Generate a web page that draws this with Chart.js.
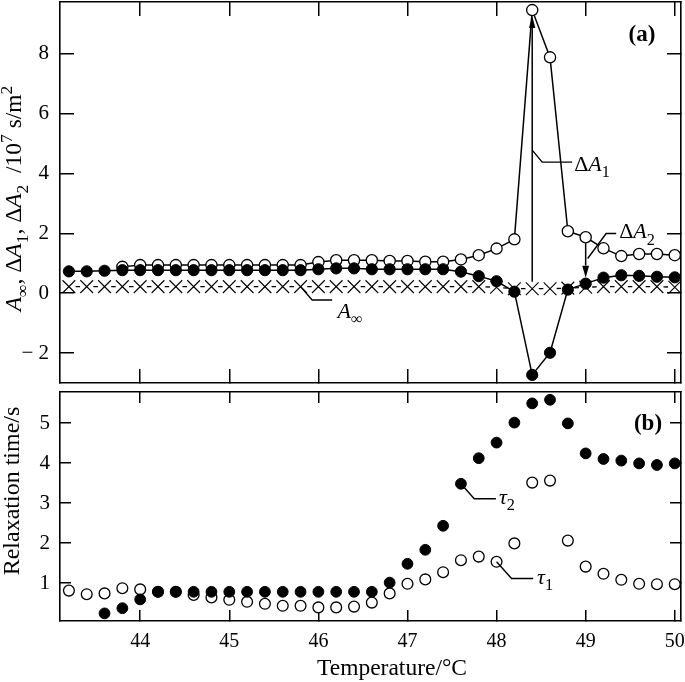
<!DOCTYPE html>
<html>
<head>
<meta charset="utf-8">
<script src="https://cdn.jsdelivr.net/npm/chart.js@4.4.1/dist/chart.umd.min.js"></script>
<style>
  html, body { margin: 0; padding: 0; background: #fff; }
  #wrap { position: relative; width: 685px; height: 682px; }
  #panelA { position: absolute; left: 0; top: 0; }
  #panelB { position: absolute; left: 0; top: 386px; }
</style>
</head>
<body>
<div id="wrap">
  <canvas id="panelA" width="685" height="390"></canvas>
  <canvas id="panelB" width="685" height="296"></canvas>
</div>
<script>
// temperature (°C)
const temps = [43.2, 43.4, 43.6, 43.8, 44.0, 44.2, 44.4, 44.6, 44.8, 45.0,
  45.2, 45.4, 45.6, 45.8, 46.0, 46.2, 46.4, 46.6, 46.8, 47.0,
  47.2, 47.4, 47.6, 47.8, 48.0, 48.2, 48.4, 48.6, 48.8, 49.0,
  49.2, 49.4, 49.6, 49.8, 50.0];

// panel (a), 10^7 s/m^2
const deltaA1 = [null, null, null, 0.88, 0.94, 0.94, 0.94, 0.94, 0.94, 0.94,
  0.94, 0.94, 0.94, 0.94, 1.04, 1.10, 1.10, 1.10, 1.08, 1.08,
  1.05, 1.05, 1.13, 1.27, 1.49, 1.80, 9.46, 7.88, 2.07, 1.87,
  1.50, 1.24, 1.31, 1.31, 1.27];
const deltaA2 = [0.73, 0.73, 0.75, 0.77, 0.77, 0.77, 0.77, 0.77, 0.77, 0.77,
  0.77, 0.77, 0.77, 0.77, 0.80, 0.83, 0.83, 0.80, 0.80, 0.80,
  0.80, 0.80, 0.72, 0.57, 0.40, 0.05, -2.73, -1.99, 0.12, 0.32,
  0.52, 0.60, 0.58, 0.55, 0.53];
const aInf = [0.22, 0.22, 0.22, 0.22, 0.22, 0.22, 0.22, 0.22, 0.22, 0.22,
  0.22, 0.22, 0.22, 0.22, 0.22, 0.22, 0.22, 0.22, 0.22, 0.22,
  0.22, 0.22, 0.22, 0.22, 0.20, 0.15, 0.15, 0.15, 0.17, 0.20,
  0.22, 0.22, 0.22, 0.22, 0.20];

// panel (b), relaxation time (s)
const tau1 = [0.81, 0.72, 0.74, 0.87, 0.84, 0.78, 0.78, 0.70, 0.64, 0.58,
  0.53, 0.48, 0.43, 0.43, 0.39, 0.39, 0.41, 0.51, 0.74, 0.98,
  1.09, 1.27, 1.57, 1.66, 1.53, 1.99, 3.51, 3.56, 2.06, 1.41,
  1.23, 1.08, 0.98, 0.97, 0.97];
const tau2 = [null, null, 0.24, 0.37, 0.59, 0.78, 0.78, 0.78, 0.78, 0.78,
  0.78, 0.78, 0.78, 0.78, 0.78, 0.78, 0.78, 0.78, 1.01, 1.48,
  1.83, 2.43, 3.48, 4.12, 4.51, 5.01, 5.49, 5.58, 4.99, 4.24,
  4.10, 4.06, 3.99, 3.95, 3.99];

const xTickValues = [44, 45, 46, 47, 48, 49, 50];
const yTickValuesA = [-2, 0, 2, 4, 6, 8];
const yTickValuesB = [1, 2, 3, 4, 5];

window.addEventListener("DOMContentLoaded", () => {
  const SERIF = "'Liberation Serif', 'Times New Roman', serif";
  const X_MIN = 43.1, X_MAX = 50.07;
  const LEFT = 60, RIGHT_PAD = 4;
  const ink = "#000";

  Chart.defaults.font.family = SERIF;
  Chart.defaults.color = ink;

  const pts = (arr) => temps.map((t, i) => ({ x: t, y: arr[i] }));

  // draws a row of text pieces: '' normal, 'i' italic, 'sub', 'sup', 'b' bold
  function textRuns(ctx, parts, x, y, size, align) {
    const spec = parts.map(([t, s]) => {
      const small = s === "sub" || s === "sup";
      const fs = small ? size * 0.74 : size;
      const style = s === "i" ? "italic " : s === "b" ? "bold " : "";
      const font = `${style}${fs}px ${SERIF}`;
      ctx.font = font;
      return { t, font, w: ctx.measureText(t).width,
        dy: s === "sub" ? size * 0.3 : s === "sup" ? -size * 0.4 : 0 };
    });
    const total = spec.reduce((a, p) => a + p.w, 0);
    let cx = align === "center" ? x - total / 2 : align === "right" ? x - total : x;
    ctx.textAlign = "left";
    ctx.textBaseline = "alphabetic";
    ctx.fillStyle = ink;
    for (const p of spec) {
      ctx.font = p.font;
      ctx.fillText(p.t, cx, y + p.dy);
      cx += p.w;
    }
  }

  function leader(ctx, x0, y0, dx, dy, run) {
    ctx.beginPath();
    ctx.moveTo(x0, y0);
    ctx.lineTo(x0 + dx, y0 + dy);
    ctx.lineTo(x0 + dx + run, y0 + dy);
    ctx.stroke();
  }

  function vArrow(ctx, x, yFrom, yTip, len, half) {
    const dir = yTip < yFrom ? -1 : 1;
    ctx.beginPath();
    ctx.moveTo(x, yFrom);
    ctx.lineTo(x, yTip - dir * len);
    ctx.stroke();
    ctx.beginPath();
    ctx.moveTo(x, yTip);
    ctx.lineTo(x - half, yTip - dir * len);
    ctx.lineTo(x + half, yTip - dir * len);
    ctx.closePath();
    ctx.fill();
  }

  // frame axis with inward ticks; `size` is the box the axis takes (labels are clipped to it)
  function frameAxis(position, tickLen, min, max, tickValues, labels, size) {
    const horizontal = position === "top" || position === "bottom";
    return {
      type: "linear",
      position,
      min,
      max,
      afterBuildTicks: (s) => { s.ticks = tickValues.map((v) => ({ value: v })); },
      afterFit: (s) => {
        if (horizontal) s.height = size || 0; else s.width = size || 0;
        s.paddingLeft = s.paddingRight = s.paddingTop = s.paddingBottom = 0;
      },
      grid: { drawOnChartArea: false, drawTicks: true, tickLength: tickLen, color: ink, lineWidth: 1.5 },
      border: { display: true, color: ink, width: 1.6 },
      ticks: labels
        ? Object.assign({ display: true, autoSkip: false, maxRotation: 0, color: ink }, labels)
        : { display: false }
    };
  }

  const minusFmt = (v) => (v < 0 ? "\u2212 " + Math.abs(v) : String(v));

  // crosses joined by short dashes between the marks
  const crossStep = (685 - LEFT - RIGHT_PAD) / (X_MAX - X_MIN) * 0.2;
  const dashLen = 4.5;
  const crossDash = [dashLen, crossStep - dashLen];
  const crossDashOffset = crossStep - (crossStep - dashLen) / 2;

  const panelAPlugin = {
    id: "panelAText",
    afterDatasetsDraw(chart) {
      const { ctx, chartArea } = chart;
      const x = chart.scales.x, y = chart.scales.y;
      const px = (v) => x.getPixelForValue(v), py = (v) => y.getPixelForValue(v);
      ctx.save();
      ctx.strokeStyle = ink;
      ctx.fillStyle = ink;
      ctx.lineWidth = 1.5;

      // ΔA1 arrow: from A∞ up to the ΔA1 peak
      const iPeak = temps.indexOf(48.4);
      vArrow(ctx, px(48.4), py(aInf[iPeak]) - 7, py(deltaA1[iPeak]) + 6, 12, 3.2);
      // ΔA2 arrow: from ΔA1 down to ΔA2
      const j = temps.indexOf(49.0);
      vArrow(ctx, px(49.0), py(deltaA1[j]) + 6, py(deltaA2[j]) - 6, 12, 3.4);

      // leaders and labels
      ctx.lineWidth = 1.4;
      const l1x = px(48.4), l1y = py(4.78);
      leader(ctx, l1x, l1y, 10, 12, 30);
      textRuns(ctx, [["\u0394", ""], ["A", "i"], ["1", "sub"]], l1x + 42, l1y + 20.5, 22, "left");

      const l2x = px(49.0) + 2, l2y = py(1.16);
      leader(ctx, l2x, l2y, 18.5, -25, 10);
      textRuns(ctx, [["\u0394", ""], ["A", "i"], ["2", "sub"]], l2x + 31.5, l2y - 20, 22, "left");

      const k = temps.indexOf(45.8);
      const l3x = px(45.8), l3y = py(aInf[k]);
      leader(ctx, l3x, l3y, 11.6, 13.4, 20);
      textRuns(ctx, [["A", "i"], ["\u221E", "sub"]], l3x + 37, l3y + 31, 22, "left");

      textRuns(ctx, [["(a)", "b"]], chartArea.right - 39, chartArea.top + 39, 23, "center");
      ctx.restore();
    },
    afterDraw(chart) {
      const { ctx, chartArea } = chart;
      ctx.save();
      ctx.translate(21, (chartArea.top + chartArea.bottom) / 2 + 6);
      ctx.rotate(-Math.PI / 2);
      textRuns(ctx, [
        ["A", "i"], ["\u221E", "sub"], [", \u0394", ""], ["A", "i"], ["1", "sub"],
        [", \u0394", ""], ["A", "i"], ["2", "sub"], ["  /10", ""], ["7", "sup"],
        [" s/m", ""], ["2", "sup"]
      ], 0, 0, 23.5, "center");
      ctx.restore();
    }
  };

  new Chart(document.getElementById("panelA"), {
    type: "line",
    data: {
      datasets: [
        {
          label: "\u0394A2",
          data: pts(deltaA2),
          order: 0,
          borderColor: ink,
          borderWidth: 1.5,
          pointStyle: "circle",
          pointRadius: 5.6,
          pointBackgroundColor: ink,
          pointBorderColor: ink,
          pointBorderWidth: 1
        },
        {
          label: "\u0394A1",
          data: pts(deltaA1),
          order: 1,
          borderColor: ink,
          borderWidth: 1.5,
          pointStyle: "circle",
          pointRadius: 5.6,
          pointBackgroundColor: "#fff",
          pointBorderColor: ink,
          pointBorderWidth: 1.3
        },
        {
          label: "A\u221E",
          data: pts(aInf),
          order: 2,
          borderColor: ink,
          borderWidth: 1.3,
          borderDash: crossDash,
          borderDashOffset: crossDashOffset,
          pointStyle: "crossRot",
          pointRadius: 9,
          pointBorderColor: ink,
          pointBorderWidth: 1.1
        }
      ]
    },
    options: {
      responsive: false,
      animation: false,
      events: [],
      layout: { autoPadding: false, padding: { left: 0, right: RIGHT_PAD, top: 2, bottom: 7 } },
      plugins: { legend: { display: false }, tooltip: { enabled: false } },
      scales: {
        x: frameAxis("bottom", -14, X_MIN, X_MAX, xTickValues, null),
        xTop: frameAxis("top", -14, X_MIN, X_MAX, xTickValues, null),
        y: frameAxis("left", -14, -3, 9.73, yTickValuesA,
          { font: { size: 21 }, padding: 25, callback: minusFmt }, LEFT),
        yRight: frameAxis("right", -14, -3, 9.73, yTickValuesA, null)
      }
    },
    plugins: [panelAPlugin]
  });

  const panelBPlugin = {
    id: "panelBText",
    afterDatasetsDraw(chart) {
      const { ctx, chartArea } = chart;
      const x = chart.scales.x, y = chart.scales.y;
      const px = (v) => x.getPixelForValue(v), py = (v) => y.getPixelForValue(v);
      ctx.save();
      ctx.strokeStyle = ink;
      ctx.lineWidth = 1.4;

      const a = temps.indexOf(47.6);
      const t2x = px(47.6), t2y = py(tau2[a]);
      leader(ctx, t2x, t2y, 13.3, 15, 21.7);
      textRuns(ctx, [["\u03C4", "i"], ["2", "sub"]], t2x + 38, t2y + 20, 22, "left");

      const b = temps.indexOf(48.0);
      const t1x = px(48.0), t1y = py(tau1[b]);
      leader(ctx, t1x, t1y, 15, 16.7, 21.6);
      textRuns(ctx, [["\u03C4", "i"], ["1", "sub"]], t1x + 40.5, t1y + 21.7, 22, "left");

      textRuns(ctx, [["(b)", "b"]], chartArea.right - 33, chartArea.top + 38, 23, "center");
      ctx.restore();
    },
    afterDraw(chart) {
      const { ctx } = chart;
      ctx.save();
      ctx.translate(19, 105);
      ctx.rotate(-Math.PI / 2);
      textRuns(ctx, [["Relaxation time/s", ""]], 0, 0, 24, "center");
      ctx.restore();
      textRuns(ctx, [["Temperature/\u00B0C", ""]], 392, 288.5, 23.5, "center");
    }
  };

  new Chart(document.getElementById("panelB"), {
    type: "line",
    data: {
      datasets: [
        {
          label: "\u03C42",
          data: pts(tau2),
          order: 0,
          showLine: false,
          pointStyle: "circle",
          pointRadius: 5.4,
          pointBackgroundColor: ink,
          pointBorderColor: ink,
          pointBorderWidth: 1
        },
        {
          label: "\u03C41",
          data: pts(tau1),
          order: 1,
          showLine: false,
          pointStyle: "circle",
          pointRadius: 5.4,
          pointBackgroundColor: "#fff",
          pointBorderColor: ink,
          pointBorderWidth: 1.3
        }
      ]
    },
    options: {
      responsive: false,
      animation: false,
      events: [],
      layout: { autoPadding: false, padding: { left: 0, right: RIGHT_PAD, top: 6, bottom: 0 } },
      plugins: { legend: { display: false }, tooltip: { enabled: false } },
      scales: {
        x: frameAxis("bottom", -11, X_MIN, X_MAX, xTickValues, { font: { size: 20 }, padding: 19.4 }, 61),
        xTop: frameAxis("top", -11, X_MIN, X_MAX, xTickValues, null),
        y: frameAxis("left", -11, 0.05, 5.775, yTickValuesB, { font: { size: 21 }, padding: 21 }, LEFT),
        yRight: frameAxis("right", -11, 0.05, 5.775, yTickValuesB, null)
      }
    },
    plugins: [panelBPlugin]
  });
});
</script>
</body>
</html>
